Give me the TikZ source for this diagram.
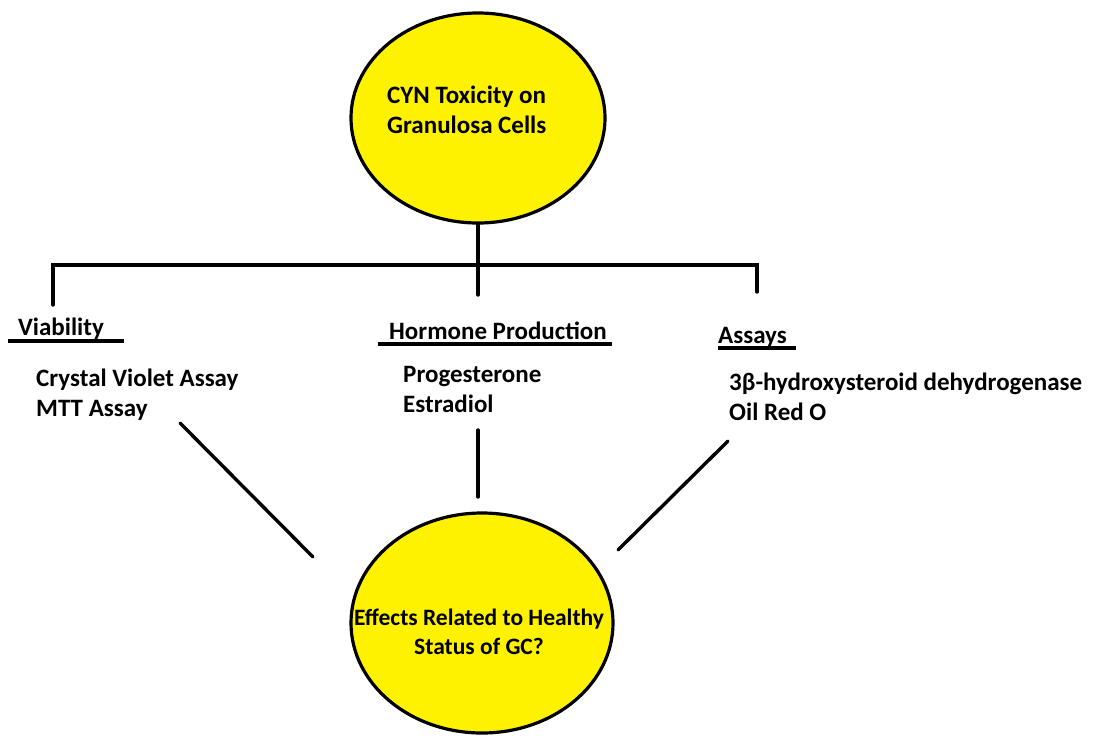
\documentclass[tikz,border=0pt]{standalone}
\usepackage{fontspec}
\setmainfont{Carlito}
\usetikzlibrary{shapes.geometric}
\begin{document}
\begin{tikzpicture}[x=1pt,y=-1pt,
  bubble/.style={ellipse,draw=black,fill=yellow,line width=3.2pt,inner sep=0pt},
  txt/.style={font=\fontsize{25}{29.5}\selectfont\bfseries,inner sep=0pt,align=left,text=black},
  head/.style={txt,anchor=base west},
  wire/.style={line width=3.4pt,line cap=round},
  uline/.style={line width=3.2pt}]
\useasboundingbox (0,0) rectangle (1116,737);
\fill[white] (0,0) rectangle (1116,737);
% top ellipse
\node[bubble,minimum width=254pt,minimum height=210pt] (top) at (478,118) {};
\node[txt,anchor=base west] (toptxt) at (387,133) {CYN Toxicity on\\Granulosa Cells};
% bottom ellipse
\node[bubble,minimum width=262pt,minimum height=220pt] (bot) at (482,623) {};
\node[txt,font=\fontsize{23.5}{29}\selectfont\bfseries,align=center,anchor=base] (bottxt) at (479,654) {Effects Related to Healthy\\Status of GC?};
% branch coordinates
\coordinate (j) at (478,265);
\coordinate (hl) at (53,265);
\coordinate (hr) at (757,265);
\coordinate (vl) at (53,305);
\coordinate (vm) at (478,295);
\coordinate (vr) at (757,292);
\draw[wire] (top.south) -- (j);
\draw[wire] (vl) -- (hl) -- (hr) -- (vr);
\draw[wire] (j) -- (vm);
% headers
\node[head] (via) at (18,335) {Viability};
\node[head] (hor) at (389,339) {Hormone Production};
\node[head] (ass) at (718,343) {Assays};
\draw[uline] ([xshift=-10pt,yshift=-6pt]via.base west) -- ([xshift=20pt,yshift=-6pt]via.base east);
\draw[uline] ([xshift=-11pt,yshift=-5pt]hor.base west) -- ([xshift=5pt,yshift=-5pt]hor.base east);
\draw[uline] ([yshift=-5pt]ass.base west) -- ([xshift=9pt,yshift=-5pt]ass.base east);
% items
\node[txt,anchor=base west] (vit) at (36,416) {Crystal Violet Assay\\MTT Assay};
\node[txt,anchor=base west] (hit) at (403,412) {Progesterone\\Estradiol};
\node[txt,anchor=base west] (ait) at (729,420) {3β-hydroxysteroid dehydrogenase\\Oil Red O};
% connectors to bottom
\coordinate (l1) at (180,423);
\coordinate (l2) at (313,557);
\coordinate (m1) at (478,430);
\coordinate (m2) at (478,497);
\coordinate (r1) at (728,441);
\coordinate (r2) at (618,550);
\draw[wire] (l1) -- (l2);
\draw[wire] (m1) -- (m2);
\draw[wire] (r1) -- (r2);
\end{tikzpicture}
\end{document}
